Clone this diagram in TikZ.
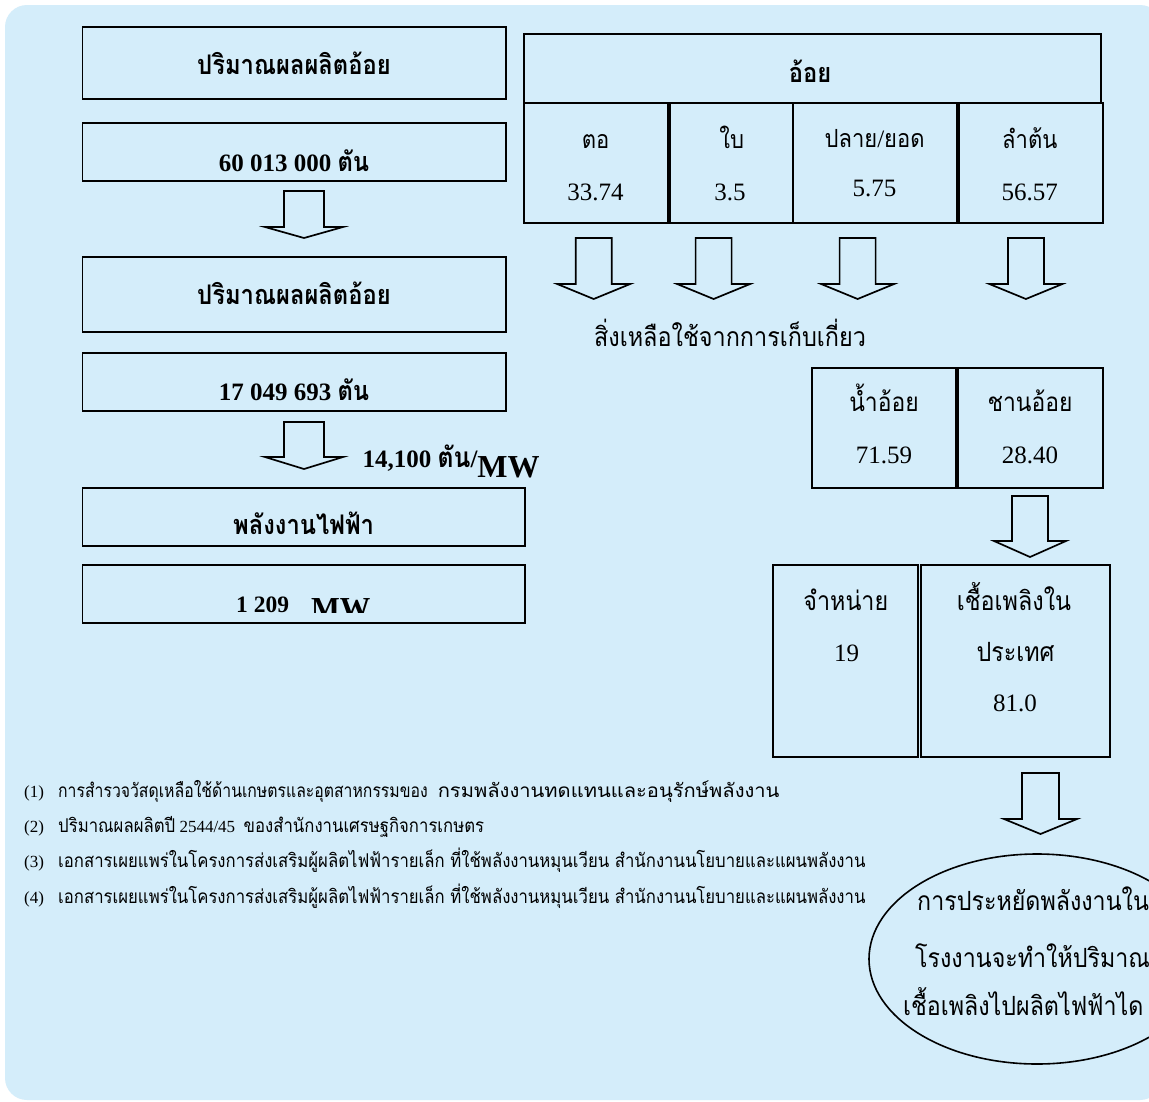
\documentclass[tikz,border=0pt]{standalone}
\usepackage{fontspec}
\setmainfont{Liberation Serif}
\newfontfamily\thai[Script=Thai, FakeStretch=0.88]{Loma}
\newfontfamily\thainarrow[Script=Thai, FakeStretch=0.83]{Loma}
\newfontfamily\thaiwide[Script=Thai, FakeStretch=1.06]{Loma}
\usetikzlibrary{shapes.geometric}
\definecolor{panel}{RGB}{212,237,250}
\newcommand\fs[1]{\fontsize{#1}{#1}\selectfont}

\begin{document}
\begin{tikzpicture}[x=1pt,y=-1pt,
  box/.style 2 args={draw=black, line width=1.8pt, inner sep=0pt,
    minimum width=#1, minimum height=#2},
  txt/.style={inner sep=0pt, anchor=base},
  ltxt/.style={inner sep=0pt, anchor=base west},
  headb/.style={font=\thai\bfseries\fs{27}},
  numb/.style={font=\bfseries\fs{25}},
  cell/.style={font=\thai\fs{25}},
  val/.style={font=\fs{25}},
  note/.style={font=\fs{17}},
  blockline/.style={draw=black, line width=1.7pt, line join=miter},
  pics/downblock/.style n args={4}{code={
    \draw[blockline] (-#1,0) -- (#1,0) -- (#1,#3) -- (#2,#3) -- (0,#4)
      -- (-#2,#3) -- (-#1,#3) -- cycle;}}
]
% page and rounded panel
\useasboundingbox (0,0) rectangle (1149,1101);
\fill[white] (0,0) rectangle (1149,1101);
\fill[panel, rounded corners=22pt] (5,5) rectangle (1162,1100);

% left column: harvest and electricity
\node[box={423.2pt}{72pt}] (b1) at (294.1,63) {};
\node[box={423.2pt}{58pt}] (b2) at (294.1,152) {};
\node[box={423.2pt}{75pt}] (b3) at (294.1,294.5) {};
\node[box={423.2pt}{58pt}] (b4) at (294.1,382) {};
\node[box={442.5pt}{58pt}] (b5) at (303.75,517) {};
\node[box={442.5pt}{58pt}] (b6) at (303.75,594) {};

\node[txt, headb] (t1) at (294,74) {ปริมาณผลผลิตอ้อย};
\node[txt, numb] (t2) at (294,171) {60 013 000 {\thai\fs{27}ตัน}};
\node[txt, headb] (t3) at (294,304) {ปริมาณผลผลิตอ้อย};
\node[txt, numb] (t4) at (294,400) {17 049 693 {\thai\fs{27}ตัน}};
\node[txt, headb] (t5) at (303.6,534) {พลังงานไฟฟ้า};
\begin{scope}
  \clip (84,567) rectangle (523,612.5);
  \node[ltxt, font=\bfseries\fs{23.5}] (t6a) at (236,612) {1 209};
  \node[ltxt, font=\bfseries\fs{30.5}] (t6b) at (311,618) {MW};
\end{scope}
\node[ltxt, font=\bfseries\fs{25}] (rate) at (362.5,467)
  {14,100 {\thai\fs{28}ตัน}/\raisebox{-10pt}{\fs{32}MW}};

\pic at (304,191) {downblock={20}{39}{36}{47}};
\pic at (304,422) {downblock={20}{39}{35}{47}};

% right: parts of the cane
\node[box={577.4pt}{69pt}] (cane) at (812.3,68.5) {};
\node[box={144.4pt}{120pt}] (c1) at (595.8,163) {};
\node[box={122.6pt}{120pt}] (c2) at (731.3,163) {};
\node[box={164.4pt}{120pt}] (c3) at (874.8,163) {};
\node[box={143.6pt}{120pt}] (c4) at (1030.8,163) {};

\node[txt, headb] (canet) at (810,82) {อ้อย};
\node[txt, cell] (c1a) at (595.5,148) {ตอ};
\node[txt, cell] (c2a) at (731.8,148) {ใบ};
\node[txt, cell] (c3a) at (874.6,147) {ปลาย{\rmfamily/}ยอด};
\node[txt, cell] (c4a) at (1029.8,148) {ลำต้น};
\node[txt, val] (c1b) at (595.6,200) {33.74};
\node[txt, val] (c2b) at (730,200) {3.5};
\node[txt, val] (c3b) at (874.6,196) {5.75};
\node[txt, val] (c4b) at (1029.8,200) {56.57};

\pic at (593.7,238) {downblock={18}{36.5}{46}{61}};
\pic at (713.6,238) {downblock={18}{36.5}{46}{61}};
\pic at (857.6,238) {downblock={18}{36.5}{46}{61}};
\pic at (1025.9,238) {downblock={18}{36.5}{46}{61}};

\node[txt, font=\thai\fs{26.6}] (resid) at (730,346.5) {สิ่งเหลือใช้จากการเก็บเกี่ยว};

% juice and bagasse
\node[box={144pt}{120pt}] (m1) at (884,428) {};
\node[box={145pt}{120pt}] (m2) at (1030.5,428) {};
\node[txt, font=\thai\fs{26}] (m1a) at (884,411.7) {น้ำอ้อย};
\node[txt, val] (m1b) at (884,463) {71.59};
\node[txt, font=\thai\fs{26}] (m2a) at (1030,411.7) {ชานอ้อย};
\node[txt, val] (m2b) at (1030,463) {28.40};

\pic at (1030,496) {downblock={18}{36}{45}{61}};

% use of bagasse
\node[box={145pt}{192pt}] (r1) at (845.5,661) {};
\node[box={189pt}{192pt}] (r2) at (1015.5,661) {};
\node[txt, font=\thai\fs{26.5}] (r1a) at (845.8,610) {จำหน่าย};
\node[txt, val] (r1b) at (846.7,661.7) {19};
\node[txt, font=\thai\fs{26.5}] (r2a) at (1014,610) {เชื้อเพลิงใน};
\node[txt, font=\thai\fs{26.5}] (r2b) at (1015.5,661.7) {ประเทศ};
\node[txt, val] (r2c) at (1015,711.7) {81.0};

\pic at (1040.5,773) {downblock={18.5}{36.5}{46}{61}};

\node[draw=black, line width=1.6pt, ellipse, inner sep=0pt,
  minimum width=336pt, minimum height=210pt] (goal) at (1037,959) {};
\node[ltxt, font=\thai\fs{26.4}] (g1) at (917,910) {การประหยัดพลังงานใน};
\node[ltxt, font=\thai\fs{26.4}] (g2) at (915,967) {โรงงานจะทำให้ปริมาณ};
\node[ltxt, font=\thai\fs{26.4}] (g3) at (903,1015) {เชื้อเพลิงไปผลิตไฟฟ้าได};

% sources
\node[ltxt, note] (n1) at (24,797) {\makebox[34pt][l]{(1)}{\thainarrow\fs{19}การสำรวจวัสดุเหลือใช้ด้านเกษตรและอุตสาหกรรมของ}\hspace{10pt}{\thaiwide\fs{19}กรมพลังงานทดแทนและอนุรักษ์พลังงาน}};
\node[ltxt, note] (n2) at (24,832) {\makebox[34pt][l]{(2)}{\thai\fs{19}ปริมาณผลผลิตปี} 2544/45 \ {\thai\fs{19}ของสำนักงานเศรษฐกิจการเกษตร}};
\node[ltxt, note] (n3) at (24,867) {\makebox[34pt][l]{(3)}{\thai\fs{19}เอกสารเผยแพร่ในโครงการส่งเสริมผู้ผลิตไฟฟ้ารายเล็ก ที่ใช้พลังงานหมุนเวียน สำนักงานนโยบายและแผนพลังงาน}};
\node[ltxt, note] (n4) at (24,903) {\makebox[34pt][l]{(4)}{\thai\fs{19}เอกสารเผยแพร่ในโครงการส่งเสริมผู้ผลิตไฟฟ้ารายเล็ก ที่ใช้พลังงานหมุนเวียน สำนักงานนโยบายและแผนพลังงาน}};
\end{tikzpicture}
\end{document}
